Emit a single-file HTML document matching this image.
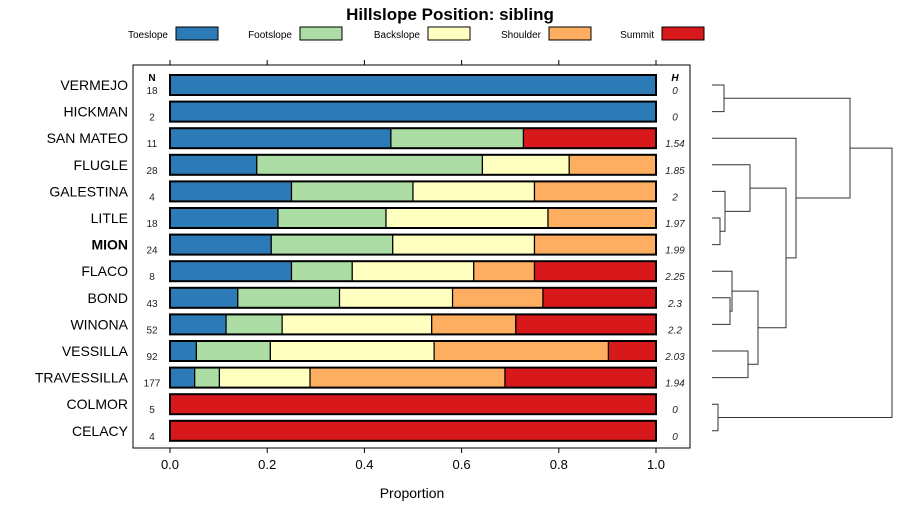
<!DOCTYPE html>
<html><head><meta charset="utf-8"><style>
body{margin:0;background:#fff}
svg{display:block;font-family:"Liberation Sans",sans-serif}
</style></head><body>
<svg id="c" width="900" height="520"></svg>
<script>
const categories=["VERMEJO","HICKMAN","SAN MATEO","FLUGLE","GALESTINA","LITLE","MION","FLACO","BOND","WINONA","VESSILLA","TRAVESSILLA","COLMOR","CELACY"];
const nValues=[18,2,11,28,4,18,24,8,43,52,92,177,5,4];
const hValues=["0","0","1.54","1.85","2","1.97","1.99","2.25","2.3","2.2","2.03","1.94","0","0"];
const toeslope=[18,2,5,5,1,4,5,2,6,6,5,9,0,0];
const footslope=[0,0,3,13,1,4,6,1,9,6,14,9,0,0];
const backslope=[0,0,0,5,1,6,7,2,10,16,31,33,0,0];
const shoulder=[0,0,0,5,1,4,6,1,8,9,33,71,0,0];
const summit=[0,0,3,0,0,0,0,2,10,15,9,55,5,4];
const seriesNames=["Toeslope","Footslope","Backslope","Shoulder","Summit"];
const seriesColors=["#2C7BB6","#ABDDA4","#FFFFBF","#FDAE61","#D7191C"];
const xTicks=[0,0.2,0.4,0.6,0.8,1.0];
const xTickLabels=["0.0","0.2","0.4","0.6","0.8","1.0"];
// dendrogram merges: [a,b,height] ; negative = leaf index, positive = merge id (1-based)
const merges=[[-5,-6,4],[-0,-1,6],[-12,-13,3],[-8,-9,9],[-4,1,6.5],[-7,4,10],[-10,-11,18],[-3,5,19],[6,7,23],[8,9,37],[-2,10,42],[2,11,69],[12,3,90]];

const NS="http://www.w3.org/2000/svg";
const svg=document.getElementById('c');
function el(t,a,p){const e=document.createElementNS(NS,t);for(const k in a)e.setAttribute(k,a[k]);(p||svg).appendChild(e);return e;}
const X0=170,X1=656;
const xs=v=>X0+v*(X1-X0);
const ys=i=>85+i*26.6;
const series=[toeslope,footslope,backslope,shoulder,summit];

let t=el('text',{x:450,y:20,'text-anchor':'middle','font-size':17,'font-weight':'bold'});t.textContent="Hillslope Position: sibling";


const legX=[168,292,420,541,654];
seriesNames.forEach((n,k)=>{
  const g=el('g',{});
  
  
  const tx=el('text',{x:legX[k],y:38,'text-anchor':'end','font-size':10},g);tx.textContent=n;
  el('rect',{x:legX[k]+8,y:27,width:42,height:13,fill:seriesColors[k],stroke:'#000','stroke-width':1},g);
});

const box=el('rect',{x:133,y:65,width:557,height:383,fill:'none',stroke:'#000','stroke-width':1});


xTicks.forEach((v,k)=>{
  el('line',{x1:xs(v),x2:xs(v),y1:60,y2:65,stroke:'#000'});
  el('line',{x1:xs(v),x2:xs(v),y1:448,y2:453,stroke:'#000'});
  const l=el('text',{x:xs(v),y:469,'text-anchor':'middle','font-size':13});l.textContent=xTickLabels[k];
  
});
t=el('text',{x:412,y:498,'text-anchor':'middle','font-size':14});t.textContent="Proportion";

t=el('text',{x:152,y:81,'text-anchor':'middle','font-size':10,'font-weight':'bold'});t.textContent="N";
t=el('text',{x:675,y:81,'text-anchor':'middle','font-size':10,'font-weight':'bold','font-style':'italic'});t.textContent="H";

categories.forEach((c,i)=>{
  const y=ys(i);
  const lab=el('text',{x:128,y:y+5,'text-anchor':'end','font-size':14,'font-weight':c==="MION"?'bold':'normal'});lab.textContent=c;
  
  const nt=el('text',{x:152,y:y+9,'text-anchor':'middle','font-size':10,fill:'#222'});nt.textContent=nValues[i];
  
  const ht=el('text',{x:675,y:y+9,'text-anchor':'middle','font-size':10,'font-style':'italic',fill:'#222'});ht.textContent=hValues[i];
  
  let tot=0;series.forEach(s=>tot+=s[i]);
  let cum=0;
  series.forEach((s,k)=>{
    if(s[i]<=0)return;
    const a=cum/tot,b=(cum+s[i])/tot;cum+=s[i];
    const r=el('rect',{x:xs(a),y:y-10,width:xs(b)-xs(a),height:20,fill:seriesColors[k],stroke:'#000','stroke-width':1.2});
    
  });
  const o=el('rect',{x:X0,y:y-10,width:X1-X0,height:20,fill:'none',stroke:'#000','stroke-width':2});
});

// dendrogram
const DX0=712,DX1=892,maxH=90;
const dx=h=>DX0+h/maxH*(DX1-DX0);
const nodes=[];
function pos(id){return id<=0?{y:ys(-id),x:DX0}:nodes[id-1];}
merges.forEach(m=>{
  const a=pos(m[0]),b=pos(m[1]),hx=dx(m[2]);
  const p=el('path',{d:`M${a.x},${a.y}H${hx}V${b.y}H${b.x}`,fill:'none',stroke:'#333','stroke-width':1});
  
  nodes.push({x:hx,y:(a.y+b.y)/2});
});
</script>
</body></html>
